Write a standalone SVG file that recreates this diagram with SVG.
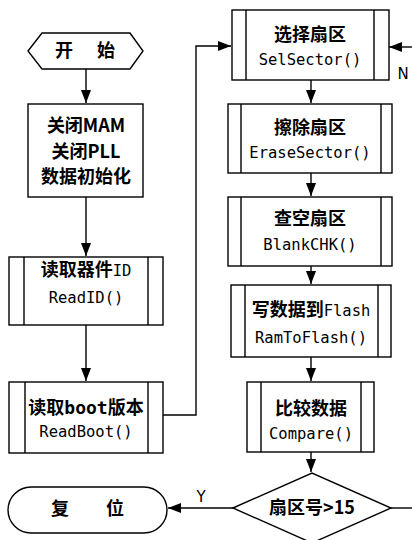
<svg xmlns="http://www.w3.org/2000/svg" width="412" height="540" viewBox="0 0 412 540">
<style>
.b{fill:#fff;stroke:#000;stroke-width:1.4}
.l{fill:none;stroke:#000;stroke-width:1.4}
.c{stroke:#000;stroke-width:1.4;fill:none;marker-end:url(#ah)}
.cn{font-family:"Noto Sans CJK SC","Noto Sans",sans-serif;font-weight:bold;font-size:18px;fill:#000;text-anchor:middle}
.m{font-family:"DejaVu Sans Mono","Liberation Mono",monospace;font-size:15.5px;fill:#000;text-anchor:middle}
.lb{font-family:"DejaVu Sans","Liberation Sans",sans-serif;font-size:15px;fill:#000;text-anchor:middle}
</style>
<defs>
<marker id="ah" markerUnits="userSpaceOnUse" markerWidth="14" markerHeight="10" refX="13" refY="5" orient="auto">
<path d="M0,0 L13,5 L0,10 Z" fill="#000"/>
</marker>
</defs>
<g id="connectors">
<path class="c" d="M86,69 V103"/>
<path class="c" d="M86,197 V256"/>
<path class="c" d="M86,325 V381"/>
<path class="c" d="M163,415 H196 V46 H231"/>
<path class="c" d="M311,80 V103"/>
<path class="c" d="M311,173 V196"/>
<path class="c" d="M311,266 V284"/>
<path class="c" d="M311,357 V381"/>
<path class="c" d="M311,452 V472"/>
<path class="c" d="M233,508 H168"/>
<path class="l" d="M391,508 H412"/>
<path class="c" d="M412,47 H389"/>
<text class="lb" x="201" y="502">Y</text>
<text class="lb" x="403" y="79">N</text>
</g>
<g id="start">
<polygon class="b" points="28,51 42,33 130,33 143,51 130,69 42,69"/>
<text class="cn" x="64" y="57">开</text>
<text class="cn" x="106" y="57">始</text>
</g>
<g id="init">
<rect class="b" x="28" y="104" width="115" height="93"/>
<text class="cn" x="86" y="132">关闭MAM</text>
<text class="cn" x="86" y="158">关闭PLL</text>
<text class="cn" x="86" y="183">数据初始化</text>
</g>
<g id="readid">
<rect class="b" x="9" y="257" width="154" height="68"/>
<path class="l" d="M24,257 V325 M148,257 V325"/>
<text class="cn" x="86" y="276">读取器件<tspan style="font-family:'DejaVu Sans Mono',monospace;font-weight:normal;font-size:15.5px">ID</tspan></text>
<text class="m" x="86" y="303">ReadID()</text>
</g>
<g id="readboot">
<rect class="b" x="9" y="382" width="154" height="71"/>
<path class="l" d="M25,382 V453 M148,382 V453"/>
<text class="cn" x="86" y="414">读取<tspan style="font-family:'DejaVu Sans Mono',monospace">boot</tspan>版本</text>
<text class="m" x="86" y="437">ReadBoot()</text>
</g>
<g id="selsector">
<rect class="b" x="232" y="10" width="157" height="70"/>
<path class="l" d="M246,10 V80 M374,10 V80"/>
<text class="cn" x="310" y="41">选择扇区</text>
<text class="m" x="310" y="65">SelSector()</text>
</g>
<g id="erasesector">
<rect class="b" x="228" y="104" width="164" height="69"/>
<path class="l" d="M241,104 V173 M381,104 V173"/>
<text class="cn" x="310" y="134">擦除扇区</text>
<text class="m" x="310" y="158">EraseSector()</text>
</g>
<g id="blankchk">
<rect class="b" x="228" y="197" width="164" height="69"/>
<path class="l" d="M241,197 V266 M381,197 V266"/>
<text class="cn" x="310" y="225">查空扇区</text>
<text class="m" x="310" y="250">BlankCHK()</text>
</g>
<g id="ramtoflash">
<rect class="b" x="231" y="285" width="160" height="72"/>
<path class="l" d="M245,285 V357 M378,285 V357"/>
<text class="cn" x="311" y="316">写数据到<tspan style="font-family:'DejaVu Sans Mono',monospace;font-weight:normal;font-size:15.5px">Flash</tspan></text>
<text class="m" x="311" y="343">RamToFlash()</text>
</g>
<g id="compare">
<rect class="b" x="247" y="382" width="127" height="70"/>
<path class="l" d="M261,382 V452 M361,382 V452"/>
<text class="cn" x="311" y="415">比较数据</text>
<text class="m" x="311" y="439">Compare()</text>
</g>
<g id="decision">
<polygon class="b" points="233,508 312,473 391,508 312,543"/>
<text class="cn" x="312" y="514">扇区号&gt;15</text>
</g>
<g id="reset">
<rect class="b" x="8" y="487" width="159" height="46" rx="23" ry="23"/>
<text class="cn" x="60" y="515">复</text>
<text class="cn" x="115" y="515">位</text>
</g>
</svg>
